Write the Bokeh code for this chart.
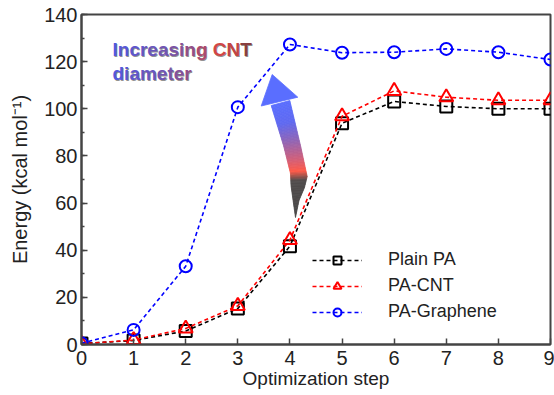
import numpy as np
from bokeh.plotting import figure
from bokeh.models import Range1d, SingleIntervalTicker, Legend, LegendItem, ColumnDataSource
from bokeh.core.properties import value
from bokeh.embed import file_html
from bokeh.resources import INLINE

# ---------------- data ----------------
steps = [0, 1, 2, 3, 4, 5, 6, 7, 8, 9]
plain_pa = [0.4, 1.7, 5.7, 15.3, 41.7, 93.9, 103.1, 101.0, 100.0, 100.0]
pa_cnt = [0.3, 1.9, 6.8, 16.4, 44.3, 96.8, 107.6, 104.9, 103.6, 103.6]
pa_graphene = [0.5, 6.2, 33.2, 100.7, 127.3, 123.8, 124.0, 125.4, 124.0, 120.9]
series_names = ["Plain PA", "PA-CNT", "PA-Graphene"]
x_ticks_interval = 1
y_ticks_interval = 20
x_label = "Optimization step"
y_label = "Energy (kcal mol\u207b\u00b9)"
note_line1 = "Increasing CNT"
note_line2 = "diameter"

# ---------------- layout ----------------
W, H = 554, 395
ML, MR, MT, MB = 81, 4, 14, 51
FW, FH = W - ML - MR, H - MT - MB
XMIN, XMAX, YMIN, YMAX = 0, 9, 0, 140

def px2x(px):
    return XMIN + (px - ML) / FW * (XMAX - XMIN)

def py2y(py):
    return YMIN + (MT + FH - py) / FH * (YMAX - YMIN)

p = figure(width=W, height=H, output_backend="svg", toolbar_location=None,
           x_range=Range1d(XMIN, XMAX), y_range=Range1d(YMIN, YMAX),
           min_border_left=ML, min_border_right=MR, min_border_top=MT, min_border_bottom=MB)
p.background_fill_color = "white"
p.border_fill_color = "white"
p.grid.visible = False
p.outline_line_color = "#444444"
p.outline_line_width = 2

FONT = "Liberation Sans"
for ax in (p.xaxis[0], p.yaxis[0]):
    ax.axis_line_color = "#444444"
    ax.axis_line_width = 2
    ax.major_tick_in = 6
    ax.major_tick_out = 0
    ax.major_tick_line_color = "#444444"
    ax.major_tick_line_width = 1.5
    ax.minor_tick_in = 3
    ax.minor_tick_out = 0
    ax.minor_tick_line_color = "#444444"
    ax.minor_tick_line_width = 1.5
    ax.major_label_text_font = FONT
    ax.major_label_text_font_size = "20px"
    ax.major_label_text_color = "#222222"
    ax.axis_label_text_font = FONT
    ax.axis_label_text_font_size = "19px"
    ax.axis_label_text_font_style = "normal"
    ax.axis_label_text_color = "#222222"

p.xaxis.ticker = SingleIntervalTicker(interval=x_ticks_interval, num_minor_ticks=0)
p.yaxis.ticker = SingleIntervalTicker(interval=y_ticks_interval, num_minor_ticks=2)
p.xaxis.minor_tick_line_color = None
p.xaxis.axis_label = x_label
p.yaxis.axis_label = y_label
p.yaxis.axis_label_text_font_size = "20px"
p.xaxis.major_label_standoff = 6
p.xaxis.axis_label_standoff = 0
p.yaxis.major_label_standoff = 4
p.yaxis.axis_label_standoff = 10

# ---------------- gradient arrow (annotation) ----------------
def grad(t, stops):
    for i in range(len(stops) - 1):
        t0, c0 = stops[i]
        t1, c1 = stops[i + 1]
        if t <= t1:
            f = 0 if t1 == t0 else (t - t0) / (t1 - t0)
            f = min(max(f, 0), 1)
            c = [int(round(c0[k] + (c1[k] - c0[k]) * f)) for k in range(3)]
            return "#%02x%02x%02x" % tuple(c)
    c = stops[-1][1]
    return "#%02x%02x%02x" % tuple(c)

arrow_stops = [(0.0, (90, 110, 255)), (0.18, (95, 105, 240)), (0.34, (145, 100, 180)),
               (0.5, (210, 95, 120)), (0.6, (255, 90, 72)), (0.68, (80, 75, 75)), (1.0, (72, 72, 72))]

left_edge = np.array([(270.7, 105), (283, 145), (290, 173), (290.5, 185), (293, 203), (295, 217)])
right_edge = np.array([(289.3, 100), (300, 145), (306.7, 176), (304, 187), (298.5, 200), (295, 217)])

def resample(poly, n):
    d = np.r_[0, np.cumsum(np.hypot(*np.diff(poly, axis=0).T))]
    s = np.linspace(0, d[-1], n)
    return np.c_[np.interp(s, d, poly[:, 0]), np.interp(s, d, poly[:, 1])]

N = 80
L = resample(left_edge, N)
R = resample(right_edge, N)
xs, ys, cols = [], [], []
for i in range(N - 1):
    quad = [L[i], L[i + 1], R[i + 1], R[i]]
    xs.append([px2x(q[0]) for q in quad])
    ys.append([py2y(q[1]) for q in quad])
    cols.append(grad((i + 0.5) / (N - 1), arrow_stops))
p.patches(xs, ys, fill_color=cols, line_color=cols, line_width=0.8)
head = [(271.7, 74), (260.7, 105.5), (297.3, 96.7)]
p.patch([px2x(h[0]) for h in head], [py2y(h[1]) for h in head],
        fill_color="#5a6eff", line_color="#5a6eff", line_width=0.8)

# ---------------- gradient text (annotation) ----------------
widths = {"I": 278, "n": 611, "c": 556, "r": 389, "e": 556, "a": 556, "s": 556, "i": 278,
          "g": 611, " ": 278, "C": 722, "N": 722, "T": 611, "d": 611, "m": 889, "t": 333}
text_stops = [(0.0, (80, 88, 225)), (0.4, (115, 85, 175)), (0.62, (160, 75, 120)),
              (0.72, (215, 70, 70)), (0.86, (200, 70, 70)), (1.0, (110, 60, 60))]
TX0 = 112
FS = 19
tx, ty, tt, tc, toff = [], [], [], [], []
span = sum(widths[ch] for ch in note_line1) * FS / 1000
for line, base in ((note_line1, 49), (note_line2, 73)):
    off = 0
    for ch in line:
        w = widths[ch] * FS / 1000
        if ch != " ":
            tx.append(px2x(TX0))
            ty.append(py2y(base))
            tt.append(ch)
            toff.append(off)
            tc.append(grad((off + w / 2) / span, text_stops))
        off += w
src = ColumnDataSource(dict(x=tx, y=ty, t=tt, c=tc, o=toff, o2=[o + 0.8 for o in toff]))
p.text(x="x", y="y", text="t", x_offset="o2", y_offset=0.8, source=src, text_color="#333333",
       text_alpha=0.55, text_font=value(FONT), text_font_style="bold", text_font_size=f"{FS}px",
       text_baseline="alphabetic", text_align="left")
p.text(x="x", y="y", text="t", x_offset="o", source=src, text_color="c",
       text_font=value(FONT), text_font_style="bold", text_font_size=f"{FS}px",
       text_baseline="alphabetic", text_align="left")

# ---------------- series ----------------
styles = [("black", "square", 12), ("red", "triangle", 14), ("blue", "circle", 12)]
items = []
for name, vals, (col, mk, sz) in zip(series_names, [plain_pa, pa_cnt, pa_graphene], styles):
    ln = p.line(steps, vals, line_color=col, line_width=1.6, line_dash="4 3")
    sc = p.scatter(steps, vals, marker=mk, size=sz, line_color=col, line_width=2, fill_color=None)
    items.append(LegendItem(label=name, renderers=[ln, sc]))

legend = Legend(items=items, location=(231, 22), padding=0, margin=0, spacing=5,
                label_height=20, glyph_height=20, glyph_width=50, label_standoff=26,
                label_text_font=FONT, label_text_font_size="18px", label_text_color="#222222",
                background_fill_alpha=0, border_line_color=None)
p.add_layout(legend)

open("out.html", "w").write(file_html(p, INLINE))
